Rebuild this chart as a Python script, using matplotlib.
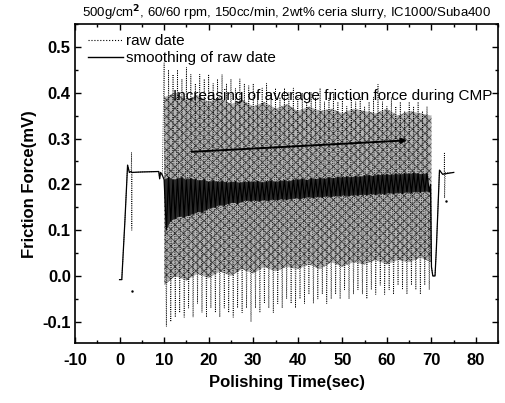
import numpy as np
import matplotlib
matplotlib.use('Agg')
import matplotlib.pyplot as plt
from matplotlib.lines import Line2D
from matplotlib.ticker import MultipleLocator

plt.rcParams['font.family'] = ['Liberation Sans', 'DejaVu Sans']
plt.rcParams['axes.unicode_minus'] = False
plt.rcParams['hatch.linewidth'] = 0.5

# raw signal before / after polishing (sec, mV)
raw_pre_t = [0.0, 0.5, 1.2, 1.8, 2.2, 2.6, 2.7, 2.75, 2.8, 5.0, 8.8, 9.0, 9.2, 9.6]
raw_pre_v = [-0.008, -0.008, 0.12, 0.242, 0.226, 0.228, 0.27, 0.10, 0.226, 0.227, 0.228, 0.212, 0.226, 0.22]
raw_post_t = [69.8, 70.0, 70.3, 70.8, 71.1, 71.8, 72.5, 72.85, 72.9, 72.95, 73.1, 75.0]
raw_post_v = [0.20, 0.02, 0.0, 0.0, 0.06, 0.231, 0.222, 0.222, 0.27, 0.17, 0.226, 0.226]
stray_t = [2.7, 73.2]
stray_v = [-0.033, 0.164]

# raw signal during polishing: peaks at 10..69 s, troughs at 10.5..69.5 s
raw_peak = [0.465, 0.45, 0.44, 0.45, 0.43, 0.455, 0.44, 0.42, 0.44, 0.43,
            0.44, 0.42, 0.43, 0.44, 0.42, 0.43, 0.41, 0.43, 0.42, 0.415,
            0.42, 0.40, 0.41, 0.42, 0.40, 0.41, 0.39, 0.41, 0.40, 0.41,
            0.39, 0.40, 0.38, 0.40, 0.39, 0.41, 0.38, 0.39, 0.40, 0.38,
            0.39, 0.37, 0.39, 0.38, 0.39, 0.37, 0.38, 0.39, 0.418, 0.38,
            0.37, 0.39, 0.37, 0.38, 0.36, 0.38, 0.37, 0.38, 0.36, 0.37]
raw_trough = [-0.11, -0.10, -0.09, -0.08, -0.09, -0.07, -0.09, -0.06, -0.08, -0.09,
              -0.07, -0.08, -0.09, -0.07, -0.08, -0.09, -0.07, -0.08, -0.07, -0.10,
              -0.07, -0.08, -0.06, -0.07, -0.08, -0.06, -0.07, -0.05, -0.06, -0.07,
              -0.05, -0.06, -0.04, -0.06, -0.05, -0.04, -0.06, -0.05, -0.04, -0.05,
              -0.03, -0.05, -0.04, -0.03, -0.04, -0.05, -0.03, -0.04, -0.02, -0.04,
              -0.03, -0.04, -0.02, -0.03, -0.04, -0.02, -0.03, -0.04, -0.02, -0.03]

# dense part of the raw band, every 2.5 s from 10 to 70
core_t = [10, 12.5, 15, 17.5, 20, 22.5, 25, 27.5, 30, 32.5, 35, 37.5, 40,
          42.5, 45, 47.5, 50, 52.5, 55, 57.5, 60, 62.5, 65, 67.5, 70]
core_hi = [0.39, 0.40, 0.385, 0.395, 0.38, 0.39, 0.375, 0.385, 0.37, 0.38, 0.365, 0.375, 0.36,
           0.37, 0.36, 0.365, 0.355, 0.365, 0.36, 0.355, 0.365, 0.35, 0.36, 0.355, 0.35]
core_lo = [-0.02, 0.0, -0.01, 0.005, -0.005, 0.01, 0.0, 0.015, 0.005, 0.02, 0.01, 0.02, 0.015,
           0.025, 0.015, 0.03, 0.02, 0.03, 0.025, 0.035, 0.025, 0.035, 0.03, 0.04, 0.03]

# smoothed signal during polishing: highs at 10..69 s, lows at 10.5..69.5 s
smooth_hi = [0.21, 0.215, 0.21, 0.212, 0.215, 0.21, 0.213, 0.21, 0.208, 0.21,
             0.205, 0.208, 0.205, 0.207, 0.204, 0.205, 0.206, 0.203, 0.205, 0.206,
             0.205, 0.207, 0.204, 0.206, 0.208, 0.205, 0.207, 0.209, 0.206, 0.21,
             0.21, 0.212, 0.209, 0.213, 0.211, 0.214, 0.212, 0.215, 0.213, 0.216,
             0.215, 0.217, 0.215, 0.218, 0.216, 0.219, 0.22, 0.218, 0.221, 0.22,
             0.222, 0.22, 0.223, 0.221, 0.224, 0.222, 0.225, 0.223, 0.222, 0.224]
smooth_lo = [0.10, 0.12, 0.125, 0.13, 0.128, 0.132, 0.135, 0.14, 0.138, 0.145,
             0.148, 0.15, 0.155, 0.153, 0.158, 0.16, 0.158, 0.162, 0.165, 0.163,
             0.165, 0.163, 0.166, 0.164, 0.167, 0.165, 0.168, 0.166, 0.168, 0.17,
             0.168, 0.17, 0.172, 0.17, 0.173, 0.171, 0.174, 0.172, 0.175, 0.174,
             0.176, 0.174, 0.177, 0.175, 0.178, 0.176, 0.179, 0.177, 0.18, 0.178,
             0.181, 0.179, 0.182, 0.18, 0.183, 0.181, 0.184, 0.182, 0.185, 0.183]

arrow_start = (16.2, 0.271)
arrow_end = (64.5, 0.296)


def zigzag(t0, highs, lows):
    """interleave highs (at t0, t0+1, ...) with lows (half a second later)"""
    n = len(highs)
    t = np.empty(2 * n)
    v = np.empty(2 * n)
    t[0::2] = t0 + np.arange(n)
    t[1::2] = t0 + 0.5 + np.arange(n)
    v[0::2] = highs
    v[1::2] = lows
    return t, v


raw_t, raw_v = zigzag(10, raw_peak, raw_trough)
sm_t, sm_v = zigzag(10, smooth_hi, smooth_lo)

fig = plt.figure(figsize=(5.05, 4.03), dpi=100)
ax = fig.add_axes([75 / 505, (403 - 343.3) / 403, 423.3 / 505, 319.3 / 403])

# raw data: dense textured core plus the dotted spikes
ax.fill_between(core_t, core_lo, core_hi, facecolor='#b4b4b4', edgecolor='#3c3c3c',
                hatch='xxxx', lw=0, zorder=1)
ax.plot(np.concatenate([raw_pre_t, raw_t, raw_post_t]),
        np.concatenate([raw_pre_v, raw_v, raw_post_v]),
        color='black', ls=':', lw=0.6, zorder=2)
ax.plot(stray_t, stray_v, ls='none', marker='.', ms=1.5, color='black')

# smoothing: dark band between the highs and lows, then the line itself
ax.fill(np.concatenate([sm_t[0::2], sm_t[1::2][::-1]]),
        np.concatenate([smooth_hi, smooth_lo[::-1]]),
        color='#2a2a2a', lw=0, zorder=3)
ax.plot(np.concatenate([raw_pre_t[:6] + raw_pre_t[8:], sm_t, raw_post_t[:7] + raw_post_t[-1:]]),
        np.concatenate([raw_pre_v[:6] + raw_pre_v[8:], sm_v, raw_post_v[:7] + raw_post_v[-1:]]),
        color='black', lw=0.9, zorder=3)

ax.annotate('', xy=arrow_end, xytext=arrow_start,
            arrowprops=dict(arrowstyle='-|>', color='black', lw=1.4,
                            mutation_scale=8, shrinkA=0, shrinkB=0), zorder=4)
ax.text(12.1, 0.384, 'Increasing of average friction force during CMP',
        fontsize=11, clip_on=False, zorder=5)

ax.set_xlim(-10, 85)
ax.set_ylim(-0.147, 0.55)
ax.xaxis.set_major_locator(MultipleLocator(10))
ax.xaxis.set_minor_locator(MultipleLocator(5))
ax.yaxis.set_major_locator(MultipleLocator(0.1))
ax.yaxis.set_minor_locator(MultipleLocator(0.05))
ax.tick_params(which='both', direction='in', top=True, right=True, width=1.0)
ax.tick_params(which='major', length=4)
ax.tick_params(which='minor', length=2.2)
ax.tick_params(axis='x', pad=7)
ax.tick_params(axis='y', pad=3)
for lab in ax.get_xticklabels() + ax.get_yticklabels():
    lab.set_fontsize(12)
    lab.set_fontweight('bold')
for sp in ax.spines.values():
    sp.set_linewidth(1.2)

ax.set_xlabel('Polishing Time(sec)', fontsize=12, fontweight='bold', labelpad=5)
ax.set_ylabel('Friction Force(mV)', fontsize=12, fontweight='bold', labelpad=4)
ax.set_title('500g/cm$^{\\mathbf{2}}$, 60/60 rpm, 150cc/min, 2wt% ceria slurry, IC1000/Suba400',
             fontsize=9.5, pad=5)

handles = [Line2D([], [], color='black', ls=':', lw=0.8),
           Line2D([], [], color='black', lw=1.0)]
ax.legend(handles, ['raw date', 'smoothing of raw date'], loc='upper left',
          bbox_to_anchor=(0.031, 0.968), borderpad=0, borderaxespad=0,
          frameon=False, fontsize=11, handlelength=2.3, handletextpad=0.2,
          labelspacing=0.2)

fig.savefig('out.png', dpi=100)
